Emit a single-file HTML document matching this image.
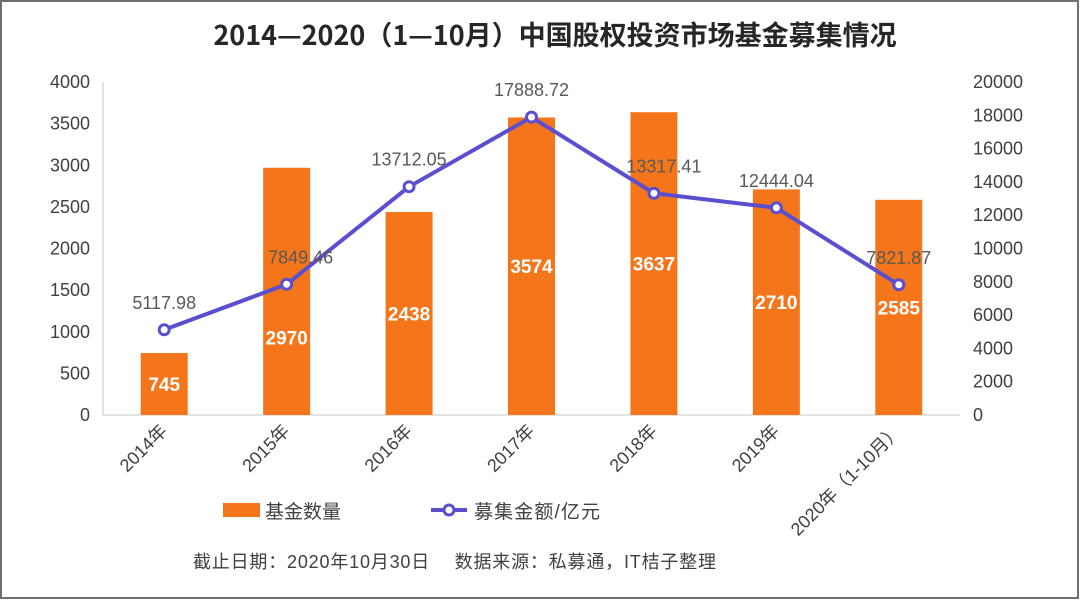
<!DOCTYPE html>
<html><head><meta charset="utf-8"><style>
html,body{margin:0;padding:0;background:#fff}
svg{display:block}
text{font-family:"Liberation Sans","Noto Sans CJK SC",sans-serif}
</style></head><body>
<svg id="chart" width="1080" height="600" viewBox="0 0 1080 600" xmlns="http://www.w3.org/2000/svg">
<rect x="1" y="1" width="1077" height="597" fill="#fff" stroke="#707070" stroke-width="2"/>
<text x="555" y="45" text-anchor="middle" font-size="27" font-weight="bold" fill="#262626" style="font-family:'Noto Sans CJK SC','Liberation Sans',sans-serif">2014—2020（1—10月）中国股权投资市场基金募集情况</text>
<g id="plot"></g>
<g>
  <rect x="223" y="503" width="37" height="14" fill="#F5761A"/>
  <text x="265" y="518" font-size="19" fill="#404040">基金数量</text>
  <line x1="431" y1="510" x2="467" y2="510" stroke="#5B4FCF" stroke-width="4"/>
  <circle cx="449" cy="510" r="5" fill="#fff" stroke="#5B4FCF" stroke-width="3"/>
  <text x="474" y="518" font-size="19" fill="#404040" textLength="126">募集金额/亿元</text>
</g>
<text x="193" y="568" font-size="18" fill="#404040" textLength="523">截止日期：2020年10月30日　 数据来源：私募通，IT桔子整理</text>
</svg>
<script>
const categories = ["2014年","2015年","2016年","2017年","2018年","2019年","2020年（1-10月）"];
const fundCounts = [745, 2970, 2438, 3574, 3637, 2710, 2585];
const amounts = [5117.98, 7849.46, 13712.05, 17888.72, 13317.41, 12444.04, 7821.87];
const leftTicks = [0,500,1000,1500,2000,2500,3000,3500,4000];
const rightTicks = [0,2000,4000,6000,8000,10000,12000,14000,16000,18000,20000];

const NS = "http://www.w3.org/2000/svg";
const plot = document.getElementById("plot");
const X0 = 103, X1 = 960, Y0 = 415, YT = 82;
const band = (X1 - X0) / categories.length;
const xc = i => X0 + band * (i + 0.5);
const yL = v => Y0 - (v / 4000) * (Y0 - YT);
const yR = v => Y0 - (v / 20000) * (Y0 - YT);
function mk(tag, attrs, text) {
  const e = document.createElementNS(NS, tag);
  for (const k in attrs) e.setAttribute(k, attrs[k]);
  if (text !== undefined) e.textContent = text;
  plot.appendChild(e);
  return e;
}
let e;
e = mk("line", {x1: X0, y1: YT, x2: X0, y2: Y0, stroke: "#d9d9d9", "stroke-width": 1.5});


e = mk("line", {x1: X0, y1: Y0, x2: X1, y2: Y0, stroke: "#d9d9d9", "stroke-width": 1.5});


leftTicks.forEach(t => {
  const el = mk("text", {x: 90, y: yL(t) + 6, "text-anchor": "end", "font-size": 18, fill: "#404040"}, String(t));
  
  
});
rightTicks.forEach(t => {
  const el = mk("text", {x: 973, y: yR(t) + 6, "font-size": 18, fill: "#404040"}, String(t));
  
  
});
const bw = 47;
const barLabelShift = [0, 46, 0, 0, 0, 0, 0];
fundCounts.forEach((v, i) => {
  const b = mk("rect", {x: xc(i) - bw / 2, y: yL(v), width: bw, height: Y0 - yL(v), fill: "#F5761A"});
  
  
  const t = mk("text", {x: xc(i), y: (yL(v) + Y0) / 2 + 7 + barLabelShift[i], "text-anchor": "middle", "font-size": 19, "font-weight": "bold", fill: "#fff"}, String(v));
  
  
  const c = mk("text", {transform: `translate(${xc(i) + 4},${Y0 + 17}) rotate(-45)`, "text-anchor": "end", "font-size": 18, fill: "#404040"}, categories[i]);
  
  
});
const pts = amounts.map((v, i) => `${xc(i)},${yR(v)}`).join(" ");
e = mk("polyline", {points: pts, fill: "none", stroke: "#5B4FCF", "stroke-width": 4, "stroke-linejoin": "round"});


const lineLabelDx = [0, 14, 0, 0, 10, 0, 0];
amounts.forEach((v, i) => {
  const c = mk("circle", {cx: xc(i), cy: yR(v), r: 5, fill: "#fff", stroke: "#5B4FCF", "stroke-width": 3});
  
  
  const t = mk("text", {x: xc(i) + lineLabelDx[i], y: yR(v) - 21, "text-anchor": "middle", "font-size": 18, fill: "#595959"}, v.toFixed(2));
  
  
});
</script>
</body></html>
